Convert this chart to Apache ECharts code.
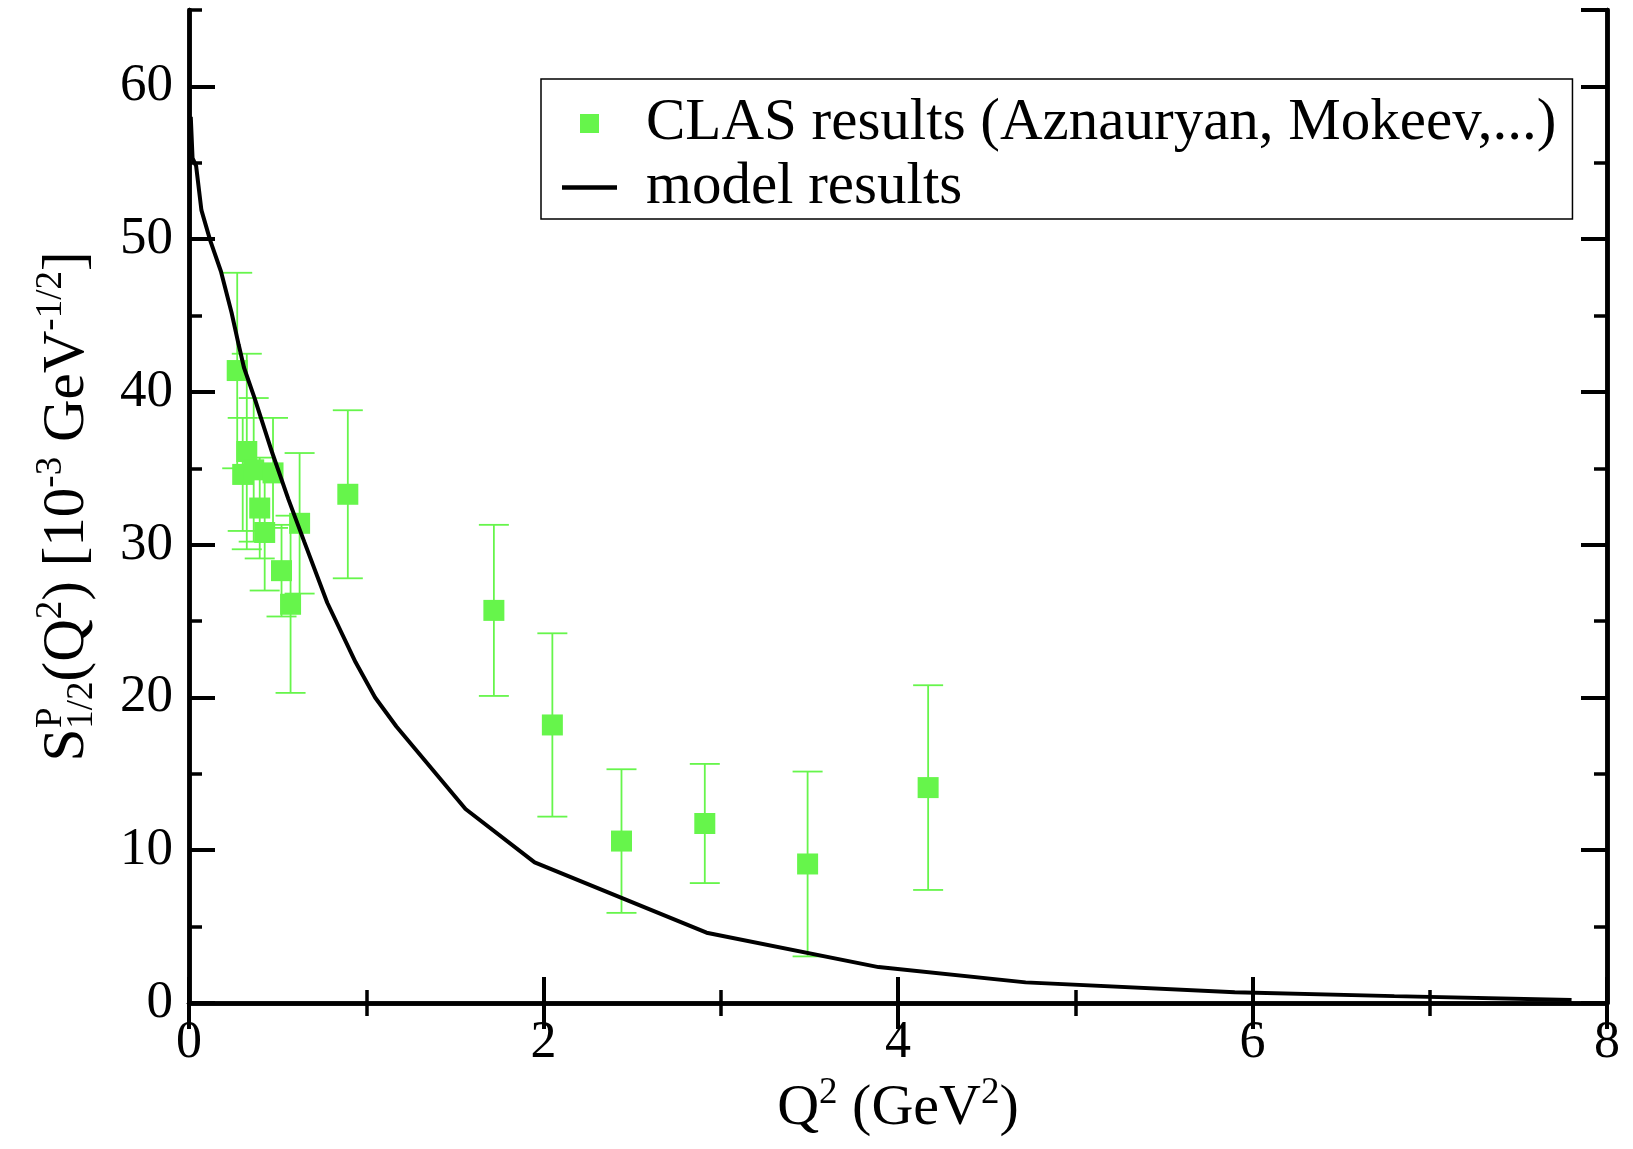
<!DOCTYPE html>
<html>
<head>
<meta charset="utf-8">
<script src="https://cdn.jsdelivr.net/npm/echarts@6/dist/echarts.min.js"></script>
<style>
  html, body { margin: 0; padding: 0; background: #fff; }
  #chart { width: 1633px; height: 1149px; }
</style>
</head>
<body>
<div id="chart"></div>
<script>
// CLAS points: Q^2, value, symmetric error
const clasQ2 = [0.272, 0.303, 0.326, 0.365, 0.399, 0.427, 0.474, 0.522, 0.573, 0.624, 0.896, 1.72, 2.05, 2.44, 2.91, 3.49, 4.17];
const clasVal = [41.4, 34.6, 36.1, 34.9, 32.4, 30.8, 34.7, 28.3, 26.1, 31.4, 33.3, 25.7, 18.2, 10.6, 11.75, 9.1, 14.1];
const clasErr = [6.4, 3.7, 6.4, 4.7, 3.3, 3.8, 3.6, 3.0, 5.8, 4.6, 5.5, 5.6, 6.0, 4.7, 3.9, 6.05, 6.7];

// model curve
const modelQ2 = [0.01, 0.02, 0.04, 0.07, 0.12, 0.18, 0.24, 0.28, 0.31, 0.37, 0.47, 0.56, 0.65, 0.78, 0.94, 1.05, 1.17, 1.56, 1.95, 2.92, 3.89, 4.72, 5.9, 6.8, 7.8];
const modelVal = [58.0, 55.3, 54.8, 51.9, 49.9, 47.9, 45.2, 43.1, 41.6, 39.6, 36.0, 33.0, 30.2, 26.2, 22.3, 20.0, 18.1, 12.7, 9.2, 4.6, 2.35, 1.35, 0.7, 0.45, 0.2];

const xTicks = [0, 2, 4, 6, 8];
const yTicks = [0, 10, 20, 30, 40, 50, 60];

const green = '#66F54B';
const serif = '"Liberation Serif", "DejaVu Serif", serif';

const chart = echarts.init(document.getElementById('chart'));

const frameLine = { lineStyle: { color: '#000', width: 4.5 } };
const majorTick = { show: true, inside: true, length: 26, lineStyle: { color: '#000', width: 4 } };
const minorTick = { show: true, inside: true, length: 13, lineStyle: { color: '#000', width: 3.5 } };

function richFor(size) {
  const s = Math.round(size * 0.63);
  const up = Math.round(s * 0.7);
  return {
    n: { fontSize: size, fontFamily: serif, color: '#000', lineHeight: Math.round(size * 1.15) },
    sup: { fontSize: s, fontFamily: serif, color: '#000', lineHeight: up, verticalAlign: 'top' },
    // zero-width superscript, shifted so it sits above the following subscript
    supz: { fontSize: s, fontFamily: serif, color: '#000', lineHeight: up, verticalAlign: 'top', width: 0, padding: [0, -11, 0, 11] },
    sub: { fontSize: s, fontFamily: serif, color: '#000', lineHeight: s, verticalAlign: 'bottom' }
  };
}

const errData = clasQ2.map((q, i) => [q, clasVal[i] - clasErr[i], clasVal[i] + clasErr[i]]);

const options = {
  animation: false,
  backgroundColor: '#fff',
  grid: { left: 189, right: 26, top: 10, bottom: 146 },
  legend: {
    left: 541,
    top: 79,
    orient: 'vertical',
    backgroundColor: '#fff',
    borderColor: '#000',
    borderWidth: 1.5,
    borderRadius: 0,
    padding: [15, 16, 2, 21],
    itemGap: 5,
    itemWidth: 55,
    itemHeight: 19,
    symbolKeepAspect: true,
    textStyle: { fontSize: 59, fontFamily: serif, color: '#000', lineHeight: 55, padding: [0, 0, 0, 24] },
    data: [
      { name: 'CLAS results (Aznauryan, Mokeev,...)', icon: 'path://M0,0H10V10H0Z', itemStyle: { color: green } },
      { name: 'model results', icon: 'path://M0,0H55V4.5H0Z', itemStyle: { color: '#000' } }
    ]
  },
  xAxis: [
    {
      type: 'value', min: 0, max: 8, interval: 2, position: 'bottom',
      axisLine: frameLine, axisTick: majorTick,
      minorTick: { show: true, splitNumber: 2, length: 13, lineStyle: { color: '#000', width: 3.5 } },
      splitLine: { show: false },
      axisLabel: {
        margin: 14, fontSize: 52, fontFamily: serif, color: '#000',
        formatter: v => (xTicks.includes(v) ? String(v) : '')
      },
      name: '{n|Q}{sup|2}{n| (GeV}{sup|2}{n|)}',
      nameLocation: 'middle', nameGap: 72,
      nameTextStyle: { rich: richFor(58) }
    },
    {
      type: 'value', min: 0, max: 8, interval: 2, position: 'top',
      axisLine: frameLine, axisTick: majorTick,
      minorTick: { show: true, splitNumber: 2, length: 13, lineStyle: { color: '#000', width: 3.5 } },
      splitLine: { show: false }, axisLabel: { show: false }
    }
  ],
  yAxis: [
    {
      type: 'value', min: 0, max: 65, interval: 10, position: 'left',
      axisLine: frameLine, axisTick: majorTick, splitLine: { show: false },
      axisLabel: {
        margin: 16, fontSize: 53, fontFamily: serif, color: '#000', showMaxLabel: false,
        formatter: v => (yTicks.includes(v) ? String(v) : '')
      },
      name: '{n|S}{supz|P}{sub|1/2}{n|(Q}{sup|2}{n|) [10}{sup|-3}{n| GeV}{sup|-1/2}{n|]}',
      nameLocation: 'middle', nameGap: 88, nameRotate: 90,
      nameTextStyle: { rich: richFor(59) }
    },
    {
      type: 'value', min: 0, max: 65, interval: 5, position: 'left',
      axisLine: frameLine, axisTick: minorTick, splitLine: { show: false }, axisLabel: { show: false }
    },
    {
      type: 'value', min: 0, max: 65, interval: 10, position: 'right',
      axisLine: frameLine, axisTick: majorTick, splitLine: { show: false }, axisLabel: { show: false }
    },
    {
      type: 'value', min: 0, max: 65, interval: 5, position: 'right',
      axisLine: frameLine, axisTick: minorTick, splitLine: { show: false }, axisLabel: { show: false }
    }
  ],
  series: [
    {
      name: 'errors',
      type: 'custom',
      z: 1,
      silent: true,
      data: errData,
      renderItem(params, api) {
        const x = api.value(0);
        const lo = api.coord([x, api.value(1)]);
        const hi = api.coord([x, api.value(2)]);
        const cap = 15;
        const style = { stroke: green, lineWidth: 1.8 };
        return {
          type: 'group',
          children: [
            { type: 'line', shape: { x1: lo[0], y1: lo[1], x2: hi[0], y2: hi[1] }, style },
            { type: 'line', shape: { x1: lo[0] - cap, y1: lo[1], x2: lo[0] + cap, y2: lo[1] }, style },
            { type: 'line', shape: { x1: hi[0] - cap, y1: hi[1], x2: hi[0] + cap, y2: hi[1] }, style }
          ]
        };
      }
    },
    {
      name: 'CLAS results (Aznauryan, Mokeev,...)',
      type: 'scatter',
      z: 2,
      symbol: 'rect',
      symbolSize: 21,
      itemStyle: { color: green, opacity: 1 },
      data: clasQ2.map((q, i) => [q, clasVal[i]])
    },
    {
      name: 'model results',
      type: 'line',
      z: 3,
      symbol: 'none',
      lineStyle: { color: '#000', width: 4 },
      itemStyle: { color: '#000' },
      data: modelQ2.map((q, i) => [q, modelVal[i]])
    }
  ]
};

chart.setOption(options);
</script>
</body>
</html>
